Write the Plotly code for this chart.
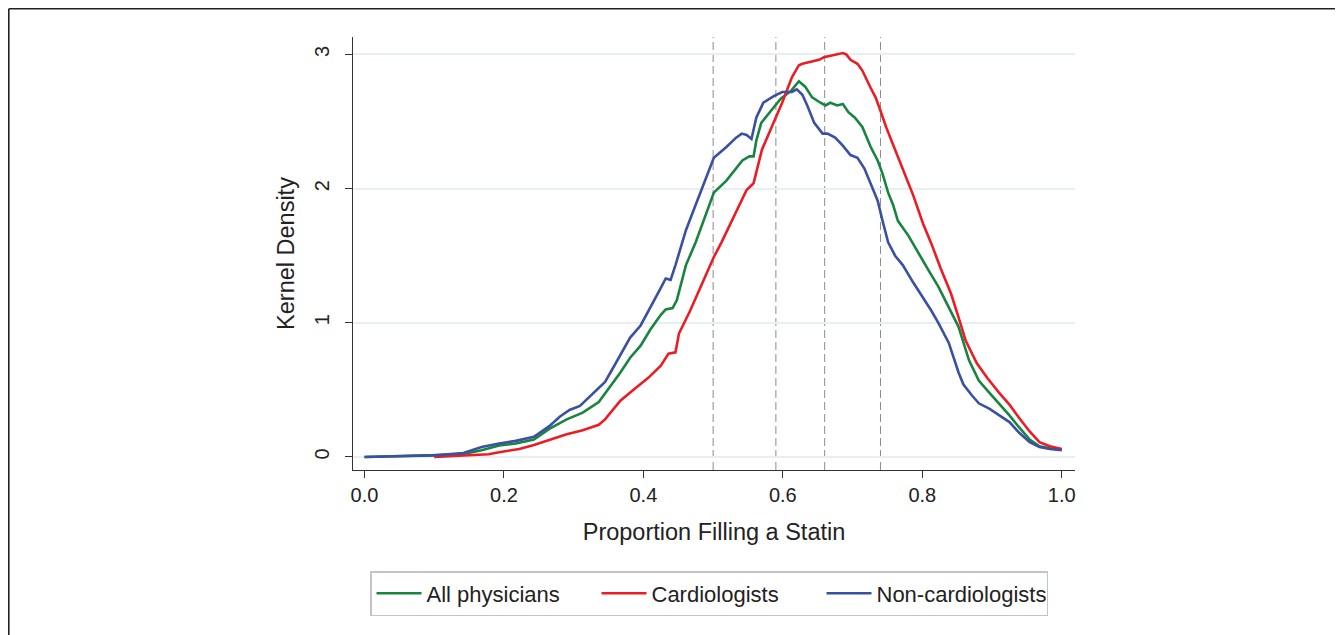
import plotly.graph_objects as go

# ---------------- data ----------------
all_x = [0.0, 0.05, 0.106, 0.142, 0.168, 0.193, 0.217, 0.243, 0.265, 0.29, 0.313, 0.336,
         0.355, 0.367, 0.381, 0.396, 0.41, 0.425, 0.432, 0.442, 0.448, 0.461, 0.475, 0.49,
         0.501, 0.519, 0.533, 0.542, 0.552, 0.558, 0.562, 0.569, 0.583, 0.597, 0.612, 0.623,
         0.632, 0.642, 0.654, 0.661, 0.668, 0.678, 0.686, 0.694, 0.703, 0.714, 0.726, 0.736,
         0.743, 0.751, 0.758, 0.765, 0.78, 0.794, 0.809, 0.823, 0.838, 0.852, 0.867, 0.881,
         0.896, 0.91, 0.925, 0.939, 0.954, 0.968, 0.983, 1.0]
all_y = [0.0, 0.005, 0.015, 0.022, 0.05, 0.085, 0.10, 0.13, 0.21, 0.28, 0.33, 0.41,
         0.54, 0.63, 0.74, 0.83, 0.95, 1.06, 1.10, 1.11, 1.17, 1.43, 1.60, 1.82,
         1.97, 2.06, 2.15, 2.21, 2.24, 2.24, 2.36, 2.49, 2.58, 2.67, 2.73, 2.80,
         2.76, 2.68, 2.64, 2.62, 2.64, 2.62, 2.63, 2.57, 2.53, 2.46, 2.31, 2.21,
         2.11, 1.97, 1.88, 1.76, 1.65, 1.52, 1.39, 1.27, 1.12, 0.97, 0.72, 0.57,
         0.48, 0.40, 0.31, 0.22, 0.13, 0.08, 0.065, 0.055]

card_x = [0.1, 0.142, 0.178, 0.193, 0.222, 0.243, 0.265, 0.29, 0.313, 0.336, 0.345, 0.355,
          0.367, 0.388, 0.407, 0.425, 0.436, 0.446, 0.451, 0.467, 0.482, 0.501, 0.512, 0.53,
          0.548, 0.558, 0.57, 0.584, 0.599, 0.613, 0.623, 0.628, 0.642, 0.652, 0.659, 0.667,
          0.675, 0.686, 0.691, 0.697, 0.707, 0.714, 0.726, 0.733, 0.74, 0.748, 0.761, 0.772,
          0.787, 0.801, 0.813, 0.826, 0.841, 0.852, 0.862, 0.878, 0.893, 0.91, 0.925, 0.939,
          0.954, 0.968, 0.983, 1.0]
card_y = [0.0, 0.01, 0.02, 0.035, 0.06, 0.09, 0.13, 0.17, 0.20, 0.24, 0.28, 0.34,
          0.42, 0.51, 0.59, 0.68, 0.77, 0.78, 0.92, 1.09, 1.27, 1.49, 1.60, 1.79,
          1.99, 2.04, 2.29, 2.46, 2.64, 2.83, 2.92, 2.93, 2.95, 2.96, 2.98, 2.99,
          3.0, 3.01, 3.0, 2.96, 2.93, 2.88, 2.75, 2.68, 2.58, 2.46, 2.29, 2.14,
          1.95, 1.74, 1.59, 1.41, 1.22, 1.04, 0.87, 0.70, 0.59, 0.48, 0.39, 0.29,
          0.19, 0.11, 0.08, 0.06]

noncard_x = [0.0, 0.05, 0.1, 0.142, 0.168, 0.193, 0.217, 0.243, 0.265, 0.28, 0.294, 0.309,
             0.323, 0.335, 0.345, 0.355, 0.367, 0.381, 0.396, 0.41, 0.425, 0.432, 0.439, 0.446,
             0.461, 0.475, 0.49, 0.501, 0.519, 0.533, 0.541, 0.548, 0.555, 0.562, 0.572, 0.587,
             0.599, 0.613, 0.62, 0.628, 0.635, 0.645, 0.657, 0.664, 0.675, 0.686, 0.697, 0.707,
             0.717, 0.726, 0.736, 0.743, 0.751, 0.761, 0.772, 0.787, 0.801, 0.813, 0.823, 0.838,
             0.852, 0.859, 0.871, 0.881, 0.896, 0.91, 0.925, 0.939, 0.954, 0.968, 0.983, 1.0]
noncard_y = [0.0, 0.005, 0.012, 0.03, 0.075, 0.10, 0.12, 0.15, 0.23, 0.30, 0.35, 0.38,
             0.45, 0.51, 0.56, 0.65, 0.76, 0.89, 0.98, 1.11, 1.26, 1.33, 1.32, 1.43,
             1.69, 1.88, 2.08, 2.23, 2.31, 2.38, 2.41, 2.40, 2.37, 2.53, 2.64, 2.69,
             2.72, 2.72, 2.74, 2.70, 2.62, 2.49, 2.41, 2.41, 2.38, 2.32, 2.25, 2.23,
             2.15, 2.03, 1.91, 1.76, 1.60, 1.50, 1.43, 1.30, 1.19, 1.09, 1.0, 0.85,
             0.63, 0.54, 0.46, 0.40, 0.36, 0.31, 0.26, 0.18, 0.11, 0.075, 0.06, 0.05]

cutoffs = [0.50, 0.59, 0.66, 0.74]
x_ticks = [0.0, 0.2, 0.4, 0.6, 0.8, 1.0]
x_tick_labels = ["0.0", "0.2", "0.4", "0.6", "0.8", "1.0"]
y_ticks = [0, 1, 2, 3]
y_tick_labels = ["0", "1", "2", "3"]

series = [
    ("All physicians", all_x, all_y, "#17853f"),
    ("Cardiologists", card_x, card_y, "#ec1c24"),
    ("Non-cardiologists", noncard_x, noncard_y, "#3a50a2"),
]

# ---------------- figure ----------------
# page body has an 8px margin, so the figure starts at (8, 8) in the window
OFF = 8
W, H = 1343 - OFF, 635 - OFF
L, T = 353 - OFF, 37 - OFF
R = W - (1075 - OFF)
B = H - (470 - OFF)
pw, ph = W - L - R, H - T - B

fig = go.Figure()
for name, xs, ys, col in series:
    fig.add_trace(go.Scatter(x=xs, y=ys, mode="lines", name=name,
                             line=dict(color=col, width=2.6, shape="linear")))

for c in cutoffs:
    fig.add_shape(type="line", xref="x", yref="paper", x0=c, x1=c, y0=0, y1=1,
                  line=dict(color="#8c8c8c", width=1, dash="8px,4px"), layer="below")

def px_to_paper_x(px):
    return (px - OFF - L) / pw

def py_to_paper_y(py):
    return (H - B - (py - OFF)) / ph

# outer frame (window coordinates)
fx0, fx1 = px_to_paper_x(8.8), px_to_paper_x(1342.2)
fy0, fy1 = py_to_paper_y(660), py_to_paper_y(8.8)
fig.add_shape(type="line", xref="paper", yref="paper", x0=fx0, x1=fx0, y0=fy0, y1=fy1,
              line=dict(color="#222222", width=1.6))
fig.add_shape(type="line", xref="paper", yref="paper", x0=fx0, x1=fx1, y0=fy1, y1=fy1,
              line=dict(color="#222222", width=1.6))
fig.add_shape(type="line", xref="paper", yref="paper", x0=fx1, x1=fx1, y0=fy0, y1=fy1,
              line=dict(color="#9a9a9a", width=1.6))

font_family = "Liberation Sans, Arial, sans-serif"
fig.update_layout(
    width=W, height=H,
    margin=dict(l=L, r=R, t=T, b=B, autoexpand=False),
    paper_bgcolor="white", plot_bgcolor="white",
    font=dict(family=font_family, color="#222222"),
    showlegend=True,
    legend=dict(orientation="h", x=px_to_paper_x(370), xanchor="left",
                y=py_to_paper_y(571), yanchor="top",
                font=dict(size=22, color="#222222", family=font_family),
                bordercolor="#c4c4c4", borderwidth=1.5, bgcolor="white",
                itemwidth=45, entrywidth=165, entrywidthmode="pixels",
                traceorder="normal"),
    xaxis=dict(range=[-0.0165, 1.019], tickvals=x_ticks, ticktext=x_tick_labels,
               showgrid=False, zeroline=False, showline=True, linecolor="#333333",
               linewidth=1.2, ticks="outside", ticklen=7, tickcolor="#333333",
               tickwidth=1.2, tickfont=dict(size=20, color="#222222"),
               title=dict(text="Proportion Filling a Statin", font=dict(size=23.5), standoff=18)),
    yaxis=dict(range=[-0.097, 3.13], tickvals=y_ticks, ticktext=y_tick_labels,
               showgrid=True, gridcolor="#e6f0f2", gridwidth=1.6, zeroline=False,
               showline=True, linecolor="#333333", linewidth=1.2, ticks="outside",
               ticklen=7, tickcolor="#333333", tickwidth=1.2, tickangle=-90,
               tickfont=dict(size=20, color="#222222"), ticklabelstandoff=8,
               title=dict(text="Kernel Density", font=dict(size=23.5), standoff=9)),
)

fig.write_html("out.html")
